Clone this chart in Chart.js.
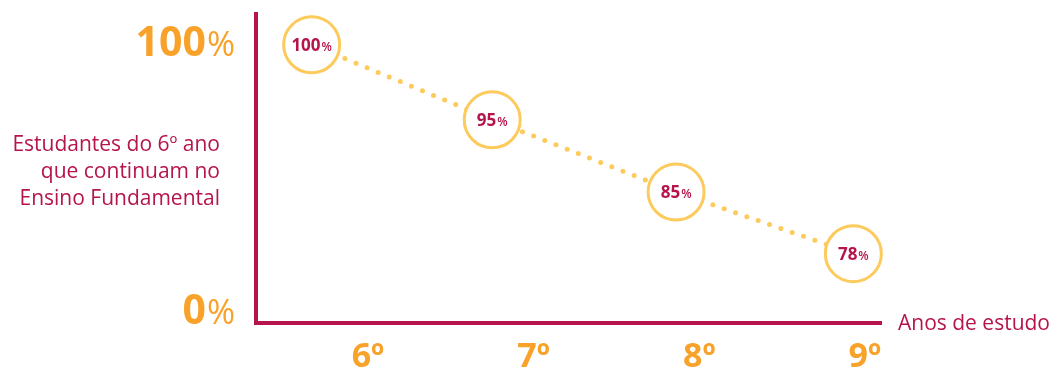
<!DOCTYPE html>
<html>
<head>
<meta charset="utf-8">
<script src="https://cdn.jsdelivr.net/npm/chart.js@4.4.1/dist/chart.umd.min.js"></script>
<style>
  html, body { margin: 0; padding: 0; background: #fff; }
  #wrap { width: 1054px; height: 371px; }
</style>
</head>
<body>
<div id="wrap"><canvas id="chart"></canvas></div>
<script>
// Permanência no Ensino Fundamental - 6º ao 9º ano
const GRADES = [6, 7, 8, 9];
const GRADE_LABELS = ['6º', '7º', '8º', '9º'];
// where each circle sits, read against the axes of the picture
const POINT_GRADE = [5.66, 6.75, 7.86, 8.93];
const POINT_LEVEL = [99, 71, 44, 21];
// the percentage printed inside each circle
const POINT_PCT = [100, 95, 85, 78];
const Y_TICKS = [0, 100];
const Y_TITLE = ['Estudantes do 6º ano', 'que continuam no', 'Ensino Fundamental'];
const X_TITLE = 'Anos de estudo';

const CRIMSON = '#b5144c';
const ORANGE = '#f8a22a';
const YELLOW = '#fdca5c';
const FONT = '"Open Sans", sans-serif';

// number in one font, "%" in a lighter / smaller one, centred or right-aligned
function drawPct(ctx, num, numFont, pctFont, x, y, align) {
    ctx.font = numFont;
    const wn = ctx.measureText(num).width;
    ctx.font = pctFont;
    const wp = ctx.measureText('%').width;
    const gap = 1;
    let left = align === 'right' ? x - wn - gap - wp : x - (wn + gap + wp) / 2;
    ctx.textAlign = 'left';
    ctx.font = numFont;
    ctx.fillText(num, left, y);
    ctx.font = pctFont;
    ctx.fillText('%', left + wn + gap, y);
}

const textPlugin = {
    id: 'extraText',
    afterDatasetsDraw(chart) {
        const { ctx } = chart;
        const meta = chart.getDatasetMeta(0);
        ctx.save();
        ctx.fillStyle = CRIMSON;
        ctx.textBaseline = 'alphabetic';
        meta.data.forEach((pt, i) => {
            drawPct(ctx, String(POINT_PCT[i]), 'bold 17px ' + FONT, '600 12px ' + FONT, pt.x, pt.y + 6, 'center');
        });
        ctx.restore();
    },
    afterDraw(chart) {
        const { ctx, scales: { y }, chartArea } = chart;
        ctx.save();
        ctx.textBaseline = 'alphabetic';
        // big tick labels on the value axis
        ctx.fillStyle = ORANGE;
        Y_TICKS.forEach(v => {
            drawPct(ctx, String(v), 'bold 41px ' + FONT, '34px ' + FONT, 235, y.getPixelForValue(v) + 14, 'right');
        });
        // axis titles
        ctx.fillStyle = CRIMSON;
        ctx.font = '21px ' + FONT;
        ctx.textAlign = 'right';
        Y_TITLE.forEach((line, i) => ctx.fillText(line, 220, 151 + i * 27));
        ctx.textAlign = 'left';
        ctx.fillText(X_TITLE, chartArea.right + 17, chartArea.bottom + 7);
        ctx.restore();
    }
};

new Chart(document.getElementById('chart'), {
    type: 'line',
    data: {
        datasets: [{
            data: POINT_GRADE.map((g, i) => ({ x: g, y: POINT_LEVEL[i] })),
            borderColor: YELLOW,
            borderWidth: 5,
            borderDash: [0, 12],
            borderCapStyle: 'round',
            pointRadius: 28,
            pointHoverRadius: 28,
            pointBorderWidth: 3,
            pointBackgroundColor: '#fff',
            pointBorderColor: YELLOW,
            tension: 0,
            clip: false
        }]
    },
    options: {
        responsive: true,
        maintainAspectRatio: false,
        animation: false,
        layout: { autoPadding: false, padding: { left: 256, top: 14, right: 173, bottom: 0 } },
        plugins: { legend: { display: false }, tooltip: { enabled: false } },
        scales: {
            x: {
                type: 'linear',
                min: 5.324,
                max: 9.097,
                afterBuildTicks: s => { s.ticks = GRADES.map(v => ({ value: v })); },
                afterFit: s => { s.height = 48; },
                grid: { display: false, drawTicks: false },
                border: { display: true, color: CRIMSON, width: 4 },
                ticks: {
                    autoSkip: false,
                    maxRotation: 0,
                    padding: 17,
                    color: ORANGE,
                    font: { family: FONT, size: 34, weight: 'bold', lineHeight: 1 },
                    callback: v => GRADE_LABELS[GRADES.indexOf(v)]
                }
            },
            y: {
                min: -4.9,
                max: 110.5,
                grid: { display: false, drawTicks: false },
                border: { display: true, color: CRIMSON, width: 4 },
                ticks: { display: false }
            }
        }
    },
    plugins: [textPlugin]
});
</script>
</body>
</html>
